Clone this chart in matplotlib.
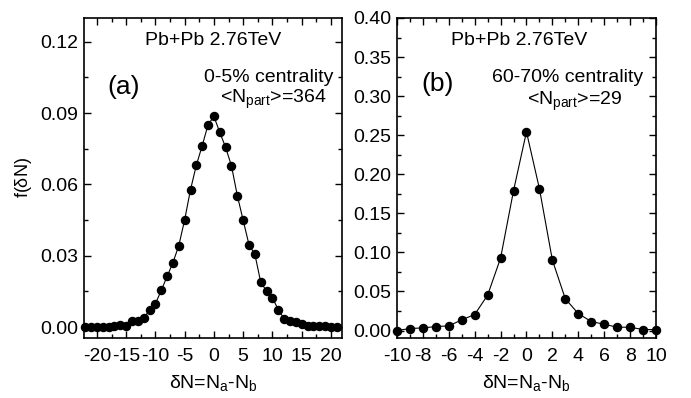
import numpy as np
import matplotlib
matplotlib.use("Agg")
import matplotlib.pyplot as plt
from matplotlib.ticker import MultipleLocator, FormatStrFormatter

plt.rcParams['font.family'] = ['Liberation Sans', 'DejaVu Sans']
plt.rcParams['mathtext.fontset'] = 'custom'
plt.rcParams['mathtext.rm'] = 'Liberation Sans'
plt.rcParams['mathtext.it'] = 'Liberation Sans'
plt.rcParams['axes.unicode_minus'] = False

# ---- panel (a): 0-5% centrality ----
dn_a = np.arange(-22, 22)
f_a = [0.0, 0.0, 0.0, 0.0, 0.0, 0.0006, 0.0007, 0.0006, 0.0024, 0.0025,
       0.0039, 0.0070, 0.0098, 0.0154, 0.0213, 0.0271, 0.0343, 0.0451,
       0.0578, 0.0681, 0.0763, 0.0851, 0.0886, 0.0819, 0.0756, 0.0678,
       0.0553, 0.0449, 0.0346, 0.0306, 0.0189, 0.0151, 0.0123, 0.0073,
       0.0035, 0.0025, 0.0020, 0.0014, 0.0003, 0.0006, 0.0006, 0.0003,
       0.0, 0.0]

# ---- panel (b): 60-70% centrality ----
dn_b = np.arange(-10, 11)
f_b = [0.0, 0.0026, 0.0034, 0.0051, 0.0060, 0.0137, 0.0205, 0.0453,
       0.0927, 0.179, 0.2543, 0.1815, 0.0902, 0.0406, 0.0218, 0.0115,
       0.0081, 0.0043, 0.0043, 0.0013, 0.0013]

fig = plt.figure(figsize=(6.91, 3.98), dpi=100)
ax_a = fig.add_axes([0.1216, 0.1508, 0.3734, 0.804])
ax_b = fig.add_axes([0.5745, 0.1508, 0.3748, 0.804])

fs = 14
for ax, x, y in [(ax_a, dn_a, f_a), (ax_b, dn_b, f_b)]:
    ax.plot(x, y, '-o', color='black', lw=0.8, ms=5.8, clip_on=False, zorder=3)
    ax.tick_params(which='both', direction='in', top=True, right=True,
                   labelsize=fs, width=1.0)
    ax.tick_params(axis='x', pad=7)
    ax.tick_params(axis='y', pad=4)
    ax.tick_params(which='major', length=5)
    ax.tick_params(which='minor', length=3)
    for s in ax.spines.values():
        s.set_linewidth(1.2)
    ax.set_xlabel(r'$\delta$N=N$_{\rm a}$-N$_{\rm b}$', fontsize=fs, labelpad=6)

ax_a.set_xlim(-22.2, 21.9)
ax_a.set_ylim(-0.0046, 0.130)
ax_a.xaxis.set_major_locator(MultipleLocator(5))
ax_a.xaxis.set_minor_locator(MultipleLocator(2.5))
ax_a.yaxis.set_major_locator(MultipleLocator(0.03))
ax_a.yaxis.set_minor_locator(MultipleLocator(0.015))
ax_a.yaxis.set_major_formatter(FormatStrFormatter('%.2f'))
ax_a.set_ylabel(r'f($\delta$N)', fontsize=13, labelpad=5)

ax_a.text(0.5, 0.93, 'Pb+Pb 2.76TeV', transform=ax_a.transAxes,
          ha='center', va='center', fontsize=fs)
ax_a.text(0.155, 0.785, '(a)', transform=ax_a.transAxes,
          ha='center', va='center', fontsize=19)
ax_a.text(0.965, 0.815, '0-5% centrality', transform=ax_a.transAxes,
          ha='right', va='center', fontsize=fs)
ax_a.text(0.94, 0.745, r'<N$_{\rm part}$>=364', transform=ax_a.transAxes,
          ha='right', va='center', fontsize=fs)

ax_b.set_xlim(-10, 10)
ax_b.set_ylim(-0.0095, 0.40)
ax_b.xaxis.set_major_locator(MultipleLocator(2))
ax_b.xaxis.set_minor_locator(MultipleLocator(1))
ax_b.yaxis.set_major_locator(MultipleLocator(0.05))
ax_b.yaxis.set_minor_locator(MultipleLocator(0.025))
ax_b.yaxis.set_major_formatter(FormatStrFormatter('%.2f'))

ax_b.text(0.47, 0.93, 'Pb+Pb 2.76TeV', transform=ax_b.transAxes,
          ha='center', va='center', fontsize=fs)
ax_b.text(0.155, 0.795, '(b)', transform=ax_b.transAxes,
          ha='center', va='center', fontsize=19)
ax_b.text(0.95, 0.815, '60-70% centrality', transform=ax_b.transAxes,
          ha='right', va='center', fontsize=fs)
ax_b.text(0.87, 0.74, r'<N$_{\rm part}$>=29', transform=ax_b.transAxes,
          ha='right', va='center', fontsize=fs)

fig.savefig('out.png', dpi=100)
